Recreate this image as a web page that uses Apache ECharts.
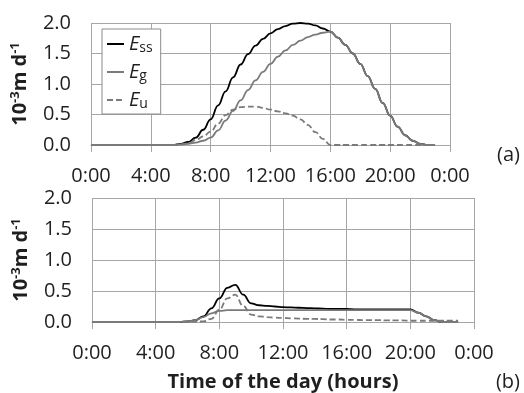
<!DOCTYPE html>
<html>
<head>
<meta charset="utf-8">
<script src="https://cdn.jsdelivr.net/npm/echarts@6/dist/echarts.min.js"></script>
<style>
  html, body {margin: 0; padding: 0; background: #fff;}
  #chart {width: 524px; height: 393px;}
</style>
</head>
<body>
<div id="chart"></div>
<script>
// hours of the day, half-hour steps
const hours = [0, 0.5, 1, 1.5, 2, 2.5, 3, 3.5, 4, 4.5, 5, 5.5, 6, 6.5, 7, 7.5, 8, 8.5, 9, 9.5,
  10, 10.5, 11, 11.5, 12, 12.5, 13, 13.5, 14, 14.5, 15, 15.5, 16, 16.5, 17, 17.5, 18, 18.5, 19, 19.5,
  20, 20.5, 21, 21.5, 22, 22.5, 23];

// panel (a)
const essA = [0, 0, 0, 0, 0, 0, 0, 0, 0, 0, 0, 0, 0.02, 0.05, 0.12, 0.25, 0.42, 0.65, 0.88, 1.11,
  1.32, 1.49, 1.63, 1.74, 1.83, 1.9, 1.95, 1.99, 2.0, 1.99, 1.96, 1.91, 1.86, 1.76, 1.64, 1.5, 1.33, 1.13, 0.92, 0.69,
  0.48, 0.3, 0.16, 0.07, 0.02, 0, 0];
const egA = [0, 0, 0, 0, 0, 0, 0, 0, 0, 0, 0, 0, 0.01, 0.02, 0.04, 0.07, 0.12, 0.24, 0.4, 0.56,
  0.73, 0.9, 1.06, 1.2, 1.33, 1.45, 1.55, 1.64, 1.71, 1.77, 1.81, 1.84, 1.86, 1.76, 1.64, 1.5, 1.33, 1.13, 0.92, 0.69,
  0.48, 0.3, 0.16, 0.07, 0.02, 0, 0];
const euA = [0, 0, 0, 0, 0, 0, 0, 0, 0, 0, 0, 0, 0.01, 0.03, 0.08, 0.14, 0.22, 0.35, 0.49, 0.58,
  0.62, 0.63, 0.63, 0.61, 0.58, 0.55, 0.52, 0.48, 0.42, 0.33, 0.21, 0.1, 0, 0, 0, 0, 0, 0, 0, 0,
  0, 0, 0, 0, 0, 0, 0];

// panel (b)
const essB = [0, 0, 0, 0, 0, 0, 0, 0, 0, 0, 0, 0, 0.01, 0.03, 0.09, 0.22, 0.38, 0.55, 0.6, 0.44,
  0.3, 0.27, 0.26, 0.25, 0.24, 0.235, 0.23, 0.225, 0.22, 0.215, 0.21, 0.21, 0.21, 0.205, 0.205, 0.205, 0.205, 0.205, 0.205, 0.205,
  0.205, 0.15, 0.09, 0.03, 0, 0, 0];
const egB = [0, 0, 0, 0, 0, 0, 0, 0, 0, 0, 0, 0, 0.01, 0.03, 0.08, 0.14, 0.18, 0.19, 0.19, 0.19,
  0.19, 0.19, 0.19, 0.19, 0.19, 0.19, 0.19, 0.19, 0.19, 0.19, 0.19, 0.19, 0.19, 0.19, 0.19, 0.19, 0.19, 0.19, 0.19, 0.19,
  0.19, 0.15, 0.09, 0.03, 0, 0, 0];
const euB = [0, 0, 0, 0, 0, 0, 0, 0, 0, 0, 0, 0, 0, 0.005, 0.01, 0.05, 0.2, 0.38, 0.44, 0.26,
  0.12, 0.09, 0.08, 0.07, 0.065, 0.06, 0.055, 0.05, 0.05, 0.045, 0.04, 0.04, 0.035, 0.035, 0.03, 0.03, 0.03, 0.025, 0.025, 0.025,
  0.02, 0.02, 0.02, 0.02, 0.02, 0.02, 0.02];

const legendNames = ['Ess', 'Eg', 'Eu'];
const legendSubs = {Ess: 'ss', Eg: 'g', Eu: 'u'};

const FONT = 'Open Sans';
const gridColor = '#a6a6a6';
const textColor = '#1f1f1f';

const pairs = arr => hours.map((h, i) => [h, arr[i]]);

const xAxisFor = (gridIndex, withName) => ({
  type: 'value', gridIndex, min: 0, max: 24, interval: 4,
  axisLine: {show: true, lineStyle: {color: gridColor, width: 1}},
  axisTick: {show: true, length: 7, lineStyle: {color: gridColor}},
  splitLine: {show: true, lineStyle: {color: gridColor, width: 1}},
  axisLabel: {
    color: textColor, fontFamily: FONT, fontSize: 20, margin: 21,
    formatter: v => (v % 24) + ':00'
  },
  name: withName ? 'Time of the day (hours)' : '',
  nameLocation: 'middle', nameGap: 50,
  nameTextStyle: {color: textColor, fontFamily: FONT, fontSize: 20, fontWeight: 'bold'}
});

const yAxisFor = gridIndex => ({
  type: 'value', gridIndex, min: 0, max: 2, interval: 0.5,
  axisLine: {show: false},
  axisTick: {show: false},
  splitLine: {show: true, lineStyle: {color: gridColor, width: 1}},
  axisLabel: {
    color: textColor, fontFamily: FONT, fontSize: 20, margin: 20,
    formatter: v => v.toFixed(1)
  },
  name: '{b|10}{s|-3}{b|m d}{s|-1}',
  nameLocation: 'middle', nameGap: 55,
  nameTextStyle: {
    rich: {
      b: {fontFamily: FONT, fontSize: 20, fontWeight: 'bold', color: textColor, lineHeight: 24},
      s: {fontFamily: FONT, fontSize: 13, fontWeight: 'bold', color: textColor, lineHeight: 24, padding: [0, 0, 10, 0]}
    }
  }
});

const lineSeries = (name, arr, idx, color, dashed) => ({
  name, type: 'line', xAxisIndex: idx, yAxisIndex: idx,
  data: pairs(arr), symbol: 'none', smooth: 0.45, smoothMonotone: 'x',
  lineStyle: {color, width: 1.8, type: dashed ? [6, 3] : 'solid'},
  itemStyle: {color},
  emphasis: {disabled: true}
});

const chart = echarts.init(document.getElementById('chart'));
chart.setOption({
  animation: false,
  backgroundColor: '#fff',
  grid: [
    {left: 91, right: 74, top: 23, height: 122, backgroundColor: '#fff', show: true, borderWidth: 0},
    {left: 92, right: 50, top: 198, height: 128, backgroundColor: '#fff', show: true, borderWidth: 0}
  ],
  xAxis: [xAxisFor(0, false), xAxisFor(1, true)],
  yAxis: [yAxisFor(0), yAxisFor(1)],
  legend: {
    data: legendNames,
    orient: 'vertical', left: 102, top: 29,
    padding: [4, 8, 3, 4],
    itemWidth: 17, itemHeight: 12, itemGap: 6,
    itemTextGap: 1,
    itemStyle: {opacity: 0},
    backgroundColor: '#fff', borderColor: '#8c8c8c', borderWidth: 1,
    selectedMode: false,
    formatter: name => '{e|E}{s|' + legendSubs[name] + '}',
    textStyle: {
      rich: {
        e: {fontFamily: FONT, fontSize: 20, fontStyle: 'italic', color: textColor, lineHeight: 22},
        s: {fontFamily: FONT, fontSize: 14, color: textColor, lineHeight: 22, padding: [8, 0, 0, 0]}
      }
    }
  },
  graphic: [
    {type: 'text', right: 4, top: 145, style: {text: '(a)', font: '20px "Open Sans"', fill: textColor}},
    {type: 'text', right: 4, top: 372, style: {text: '(b)', font: '20px "Open Sans"', fill: textColor}}
  ],
  series: [
    lineSeries('Ess', essA, 0, '#000', false),
    lineSeries('Eg', egA, 0, '#7a7a7a', false),
    lineSeries('Eu', euA, 0, '#7a7a7a', true),
    lineSeries('Ess b', essB, 1, '#000', false),
    lineSeries('Eg b', egB, 1, '#7a7a7a', false),
    lineSeries('Eu b', euB, 1, '#7a7a7a', true)
  ]
});
</script>
</body>
</html>
